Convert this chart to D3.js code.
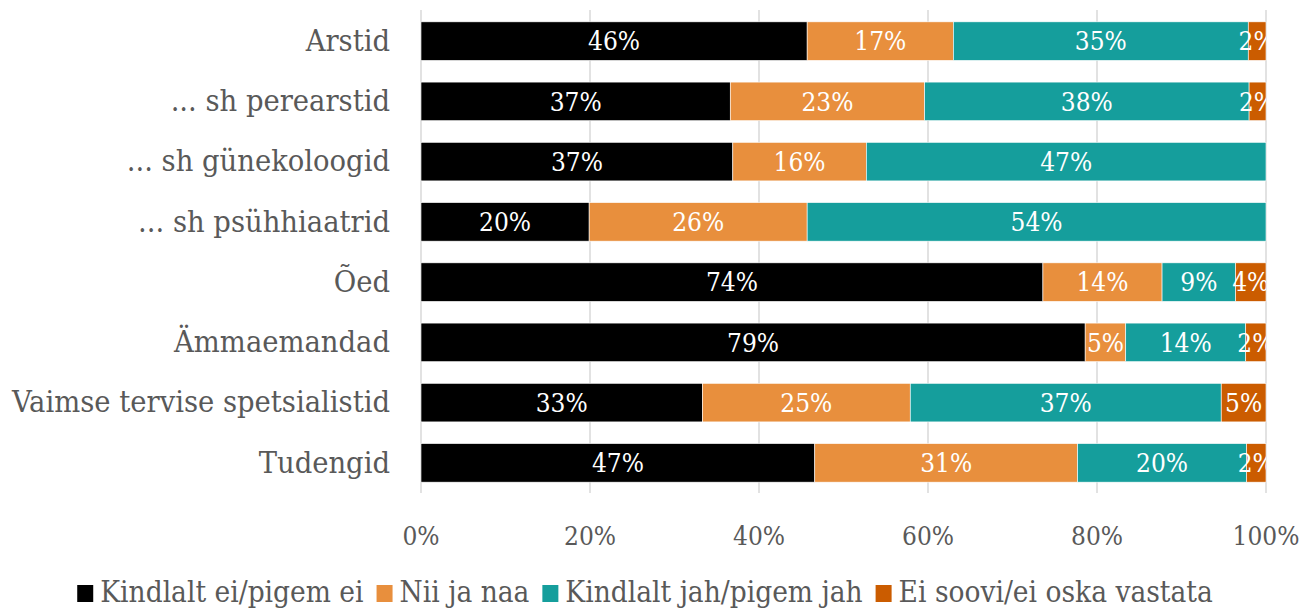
<html>
<head>
<meta charset="utf-8">
<script src="https://cdn.jsdelivr.net/npm/d3@7"></script>
<style>
  body { margin: 0; background: #fff; }
  text { font-family: "DejaVu Serif Condensed", "DejaVu Serif", serif; }
</style>
</head>
<body>
<div id="chart"></div>
<script>
// categories (top to bottom)
var groups = ["Arstid", "... sh perearstid", "... sh günekoloogid", "... sh psühhiaatrid",
              "Õed", "Ämmaemandad", "Vaimse tervise spetsialistid", "Tudengid"];
var seriesNames = ["Kindlalt ei/pigem ei", "Nii ja naa", "Kindlalt jah/pigem jah", "Ei soovi/ei oska vastata"];
var seriesColors = ["#000000", "#E88F3D", "#159E9C", "#CB5C00"];

// shares in percent, one array per series, same order as groups
var kindlaltEi  = [45.7, 36.6, 36.9, 19.9, 73.6, 78.6, 33.3, 46.6];
var niiJaNaa    = [17.3, 23.0, 15.8, 25.8, 14.1,  4.8, 24.6, 31.1];
var kindlaltJah = [34.9, 38.4, 47.3, 54.3,  8.7, 14.2, 36.8, 20.0];
var eiSoovi     = [ 2.1,  2.0,  0.0,  0.0,  3.6,  2.4,  5.3,  2.3];
var xTicks = [0, 20, 40, 60, 80, 100];

var W = 1301, H = 610;
var margin = {left: 421, right: 35, top: 11, bottom: 117};

var svg = d3.select("#chart").append("svg").attr("width", W).attr("height", H);

var x = d3.scaleLinear().domain([0, 100]).range([margin.left, W - margin.right]);
var y = d3.scaleBand().domain(groups).range([margin.top, H - margin.bottom]).paddingInner(0.36).paddingOuter(0.18);

// build stacked rows
var table = groups.map(function (g, i) {
  return {group: g, s0: kindlaltEi[i], s1: niiJaNaa[i], s2: kindlaltJah[i], s3: eiSoovi[i]};
});
var stack = d3.stack().keys(["s0", "s1", "s2", "s3"])(table);

// gridlines
svg.append("g").selectAll("line").data(xTicks).enter().append("line")
  .attr("x1", function (d) { return x(d); }).attr("x2", function (d) { return x(d); })
  .attr("y1", margin.top - 1).attr("y2", H - margin.bottom)
  .style("stroke", "#d9d9d9").style("stroke-width", 1.5);

svg.append("clipPath").attr("id", "plotclip").append("rect")
  .attr("x", x(0)).attr("y", 0).attr("width", x(100) - x(0)).attr("height", H);

var layers = svg.append("g").selectAll("g").data(stack).enter().append("g")
  .style("fill", function (d, i) { return seriesColors[i]; });

layers.selectAll("rect").data(function (d) { return d; }).enter().append("rect")
  .attr("x", function (d) { return x(d[0]); })
  .attr("y", function (d) { return y(d.data.group); })
  .attr("width", function (d) { return x(d[1]) - x(d[0]); })
  .attr("height", y.bandwidth())
  .style("stroke", "#fff").style("stroke-width", 0.6);

// value labels
var fmt = function (v) { return Math.round(v) + "%"; };
var labels = svg.append("g").attr("clip-path", "url(#plotclip)");
stack.forEach(function (layer) {
  layer.forEach(function (d) {
    if (d[1] - d[0] <= 0) return;
    labels.append("text")
      .attr("x", (x(d[0]) + x(d[1])) / 2)
      .attr("y", y(d.data.group) + y.bandwidth() / 2)
      .attr("dy", "0.36em")
      .attr("text-anchor", "middle")
      .style("fill", "#fff")
      .style("font-size", "26px")
      .text(fmt(d[1] - d[0]));
  });
});

// category labels
svg.append("g").selectAll("text").data(groups).enter().append("text")
  .attr("x", 390)
  .attr("y", function (d) { return y(d) + y.bandwidth() / 2; })
  .attr("dy", "0.32em")
  .attr("text-anchor", "end")
  .style("fill", "#595959")
  .style("font-size", "30.5px")
  .text(function (d) { return d; });

// x tick labels
svg.append("g").selectAll("text").data(xTicks).enter().append("text")
  .attr("x", function (d) { return x(d); })
  .attr("y", 545)
  .attr("text-anchor", "middle")
  .style("fill", "#595959")
  .style("font-size", "26px")
  .text(function (d) { return d + "%"; });

// legend
var legend = svg.append("g");
var lx = 0;
seriesNames.forEach(function (name, i) {
  var item = legend.append("g").attr("transform", "translate(" + lx + ",0)");
  item.append("rect").attr("x", 0).attr("y", -17).attr("width", 16).attr("height", 17)
    .style("fill", seriesColors[i]);
  var t = item.append("text").attr("x", 23).attr("y", 0)
    .style("fill", "#595959").style("font-size", "29.5px").text(name);
  lx += 23 + t.node().getComputedTextLength() + 13;
});
lx -= 13;
legend.attr("transform", "translate(" + (645 - lx / 2) + ",602)");
</script>
</body>
</html>
